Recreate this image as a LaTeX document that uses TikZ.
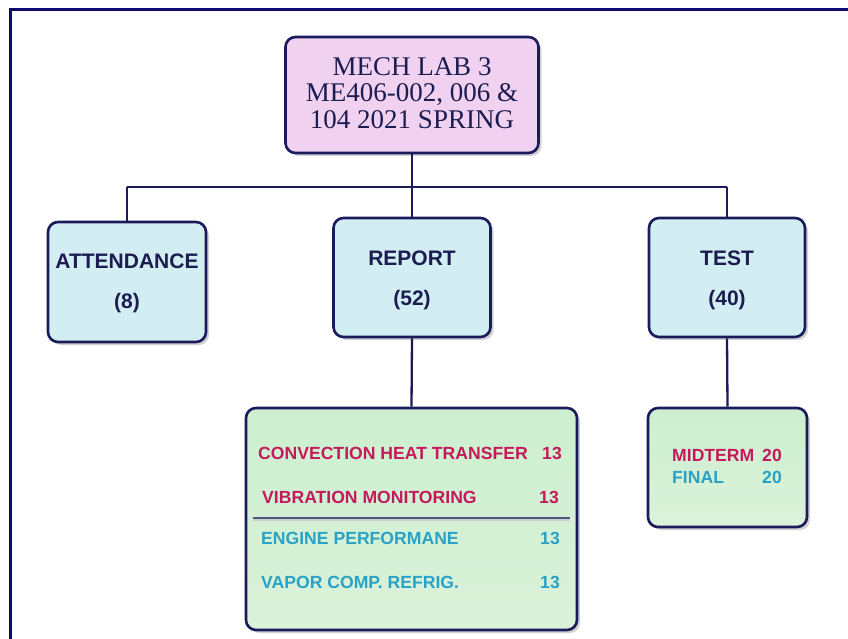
\documentclass[tikz,border=0pt]{standalone}
\usepackage{fontspec}
\setmainfont{Liberation Serif}
\newfontfamily\arialf{Liberation Sans}
\usetikzlibrary{shadows}
\definecolor{framec}{HTML}{0C0C6E}
\definecolor{edge}{HTML}{1A1A5C}
\definecolor{pinkfill}{HTML}{F0D2F0}
\definecolor{cyanfill}{HTML}{D2EEF2}
\definecolor{greentop}{HTML}{CDEFCF}
\definecolor{greenbot}{HTML}{DAF2DA}
\definecolor{crim}{HTML}{C41A5C}
\definecolor{tealc}{HTML}{2AA2C6}
\definecolor{txtnavy}{HTML}{1C1C50}
\definecolor{sepc}{HTML}{4A5A80}
\tikzset{
  box/.style={draw=edge, line width=2.6pt, rounded corners=10pt, inner sep=0pt,
    drop shadow={shadow xshift=3pt, shadow yshift=-3pt, opacity=0.35, fill=gray}},
  conn/.style={draw=edge, line width=2.3pt},
  toptxt/.style={font=\fontsize{27}{27}\selectfont, text=txtnavy, anchor=base, inner sep=0pt},
  midtxt/.style={font=\arialf\bfseries\fontsize{21}{21}\selectfont, text=txtnavy, anchor=base, inner sep=0pt},
  lowtxt/.style={font=\arialf\bfseries\fontsize{17.6}{17.6}\selectfont, inner sep=0pt},
}
\begin{document}
\begin{tikzpicture}[x=1pt,y=-1pt]
\useasboundingbox (0,0) rectangle (848,639);
\fill[white] (0,0) rectangle (848,639);
% outer frame (top and left edges)
\draw[framec, line width=3pt] (10.5,639) -- (10.5,9.5) -- (848,9.5);

% boxes
\node[box, fill=pinkfill, minimum width=253pt, minimum height=116pt] (top) at (412,95) {};
\node[box, fill=cyanfill, minimum width=158pt, minimum height=120pt] (att) at (127,282) {};
\node[box, fill=cyanfill, minimum width=157pt, minimum height=119pt] (rep) at (412,277.5) {};
\node[box, fill=cyanfill, minimum width=156pt, minimum height=119pt] (tst) at (727,277.5) {};
\node[box, top color=greentop, bottom color=greenbot, minimum width=331pt, minimum height=222pt] (repd) at (411.5,519) {};
\node[box, top color=greentop, bottom color=greenbot, minimum width=159pt, minimum height=119pt] (tstd) at (727.5,467.5) {};

% connectors
\coordinate (barL) at (127,187);
\coordinate (barR) at (727,187);
\draw[conn] (barL) -- (barR);
\draw[conn] (top.south) -- (rep.north);
\draw[conn] (barL) -- (att.north);
\draw[conn] (barR) -- (tst.north);
\draw[conn] (rep.south) -- (repd.north);
\draw[conn] (tst.south) -- (tstd.north);

% top text
\node[toptxt] (t1) at (412,76) {MECH LAB 3};
\node[toptxt] (t2) at (412,102) {ME406-002, 006 \&};
\node[toptxt] (t3) at (412,129) {104 2021 SPRING};

% middle texts
\node[midtxt] (a1) at (127,268) {ATTENDANCE};
\node[midtxt] (a2) at (127,308) {(8)};
\node[midtxt] (r1) at (412,265) {REPORT};
\node[midtxt] (r2) at (412,305) {(52)};
\node[midtxt] (s1) at (727,265) {TEST};
\node[midtxt] (s2) at (727,305) {(40)};

% report details
\node[lowtxt, text=crim, anchor=base west] (c1) at (258,459.5) {CONVECTION HEAT TRANSFER};
\node[lowtxt, text=crim, anchor=base east] (c1n) at (562,459.5) {13};
\node[lowtxt, text=crim, anchor=base west] (c2) at (262,503.5) {VIBRATION MONITORING};
\node[lowtxt, text=crim, anchor=base east] (c2n) at (559,503.5) {13};
\coordinate (sepL) at (253,518);
\coordinate (sepR) at (570,518);
\draw[gray!40, line width=1.5pt] ([yshift=-2pt]sepL) -- ([yshift=-2pt]sepR);
\draw[sepc, line width=1.8pt] (sepL) -- (sepR);
\node[lowtxt, text=tealc, anchor=base west] (c3) at (261,544.5) {ENGINE PERFORMANE};
\node[lowtxt, text=tealc, anchor=base east] (c3n) at (560,544.5) {13};
\node[lowtxt, text=tealc, anchor=base west] (c4) at (261,588.5) {VAPOR COMP. REFRIG.};
\node[lowtxt, text=tealc, anchor=base east] (c4n) at (560,588.5) {13};

% test details
\node[lowtxt, text=crim, anchor=base west] (m1) at (672,461.5) {MIDTERM};
\node[lowtxt, text=crim, anchor=base east] (m1n) at (782,461.5) {20};
\node[lowtxt, text=tealc, anchor=base west] (m2) at (672,483.5) {FINAL};
\node[lowtxt, text=tealc, anchor=base east] (m2n) at (782,483.5) {20};
\end{tikzpicture}
\end{document}
